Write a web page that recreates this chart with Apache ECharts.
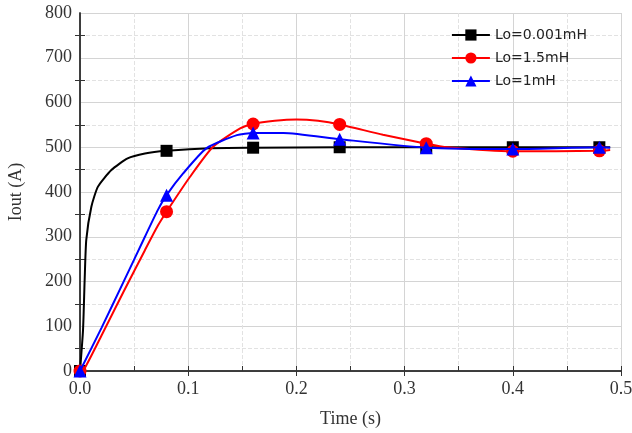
<!DOCTYPE html>
<html>
<head>
<meta charset="utf-8">
<script src="https://cdn.jsdelivr.net/npm/echarts@6/dist/echarts.min.js"></script>
<style>
  html, body { margin: 0; padding: 0; background: #fff; }
  #chart { width: 632px; height: 433px; }
</style>
</head>
<body>
<div id="chart"></div>
<script>
// Temps des marqueurs (s)
const markerTimes = [0, 0.08, 0.16, 0.24, 0.32, 0.4, 0.48];

// Courbes : [temps, courant]
const curveLo0001 = [
    [0, 0], [0.0028, 92], [0.0043, 203], [0.0058, 293], [0.0105, 367],
    [0.0166, 412], [0.029, 449], [0.044, 475], [0.06, 486], [0.08, 492],
    [0.12, 498], [0.16, 499], [0.24, 500], [0.32, 500], [0.4, 500], [0.48, 500], [0.49, 500]
];
const curveLo15 = [
    [0, 0], [0.004, 5], [0.02, 80], [0.04, 176], [0.06, 270], [0.072, 325], [0.08, 356],
    [0.1017, 434], [0.123, 501], [0.148, 542], [0.16, 552], [0.18, 559], [0.2, 562], [0.22, 559],
    [0.24, 551], [0.28, 528], [0.32, 508], [0.34, 500], [0.4, 491], [0.48, 492], [0.49, 494]
];
const curveLo1 = [
    [0, 0], [0.02, 97], [0.04, 198], [0.06, 300], [0.072, 360], [0.08, 393],
    [0.0955, 442], [0.117, 498], [0.145, 527], [0.16, 532], [0.188, 532], [0.24, 518],
    [0.32, 499], [0.4, 496], [0.48, 500], [0.49, 499]
];

const seriesNames = ['Lo=0.001mH', 'Lo=1.5mH', 'Lo=1mH'];
const seriesColors = ['#000000', '#ff0000', '#0000ff'];
const seriesSymbols = ['rect', 'circle', 'triangle'];
const seriesData = [curveLo0001, curveLo15, curveLo1];

function estMarqueur(t) {
    return markerTimes.some(m => Math.abs(m - t) < 1e-6);
}

let chart;

window.onload = init;

function init() {
    chart = echarts.init(document.getElementById('chart'));

    const axisLine = { show: true, lineStyle: { color: '#333', width: 1.5 } };

    let options = {
        animation: false,
        backgroundColor: '#fff',
        grid: { left: 80, right: 11, top: 13, bottom: 62, outerBoundsMode: 'none' },
        legend: {
            data: seriesNames,
            orient: 'vertical',
            right: 40,
            top: 23,
            itemGap: 9,
            itemWidth: 38,
            itemHeight: 14,
            textStyle: { fontFamily: 'DejaVu Sans', fontSize: 14, color: '#222' }
        },
        xAxis: [
            {
                type: 'value',
                min: 0, max: 0.5, interval: 0.1,
                name: 'Time (s)',
                nameLocation: 'middle',
                nameGap: 39,
                nameTextStyle: { fontFamily: 'Liberation Serif', fontSize: 18, color: '#333' },
                axisLine: axisLine,
                axisTick: { show: true, inside: true, length: 5, lineStyle: { color: '#333' } },
                minorTick: { show: true, splitNumber: 2, length: 5, lineStyle: { color: '#333' } },
                axisLabel: {
                    fontFamily: 'Liberation Serif', fontSize: 18, color: '#333', margin: 9,
                    formatter: v => v.toFixed(1)
                },
                splitLine: { show: true, lineStyle: { color: '#d4d4d4', width: 1 } },
                minorSplitLine: { show: true, lineStyle: { color: '#e2e2e2', type: 'dashed' } }
            },
            {
                type: 'value', position: 'top',
                min: 0, max: 0.5, interval: 0.1,
                axisLine: axisLine,
                axisTick: { show: true, inside: true, length: 5, lineStyle: { color: '#333' } },
                axisLabel: { show: false },
                splitLine: { show: false }
            }
        ],
        yAxis: [
            {
                type: 'value',
                min: 0, max: 800, interval: 100,
                name: 'Iout (A)',
                nameLocation: 'middle',
                nameGap: 55,
                nameTextStyle: { fontFamily: 'Liberation Serif', fontSize: 18, color: '#333' },
                axisLine: axisLine,
                axisTick: { show: false },
                minorTick: { show: true, splitNumber: 2, length: 5, lineStyle: { color: '#333' } },
                axisLabel: { fontFamily: 'Liberation Serif', fontSize: 18, color: '#333', margin: 8 },
                splitLine: { show: true, lineStyle: { color: '#d4d4d4', width: 1 } },
                minorSplitLine: { show: true, lineStyle: { color: '#e2e2e2', type: 'dashed' } }
            },
            {
                type: 'value', position: 'right',
                min: 0, max: 800, interval: 100,
                axisLine: axisLine,
                axisTick: { show: false },
                minorTick: { show: true, splitNumber: 2, length: 5, lineStyle: { color: '#333' } },
                axisLabel: { show: false },
                splitLine: { show: false }
            }
        ],
        series: seriesData.map((d, i) => ({
            name: seriesNames[i],
            type: 'line',
            data: d,
            smooth: 0.2,
            showAllSymbol: true,
            symbol: seriesSymbols[i],
            symbolSize: (v) => estMarqueur(v[0]) ? (i === 0 ? 12 : 13) : 0,
            itemStyle: { color: seriesColors[i] },
            lineStyle: { color: seriesColors[i], width: 2 },
            z: i === 0 ? 2 : 3 + i
        }))
    };

    chart.setOption(options);
}
</script>
</body>
</html>
